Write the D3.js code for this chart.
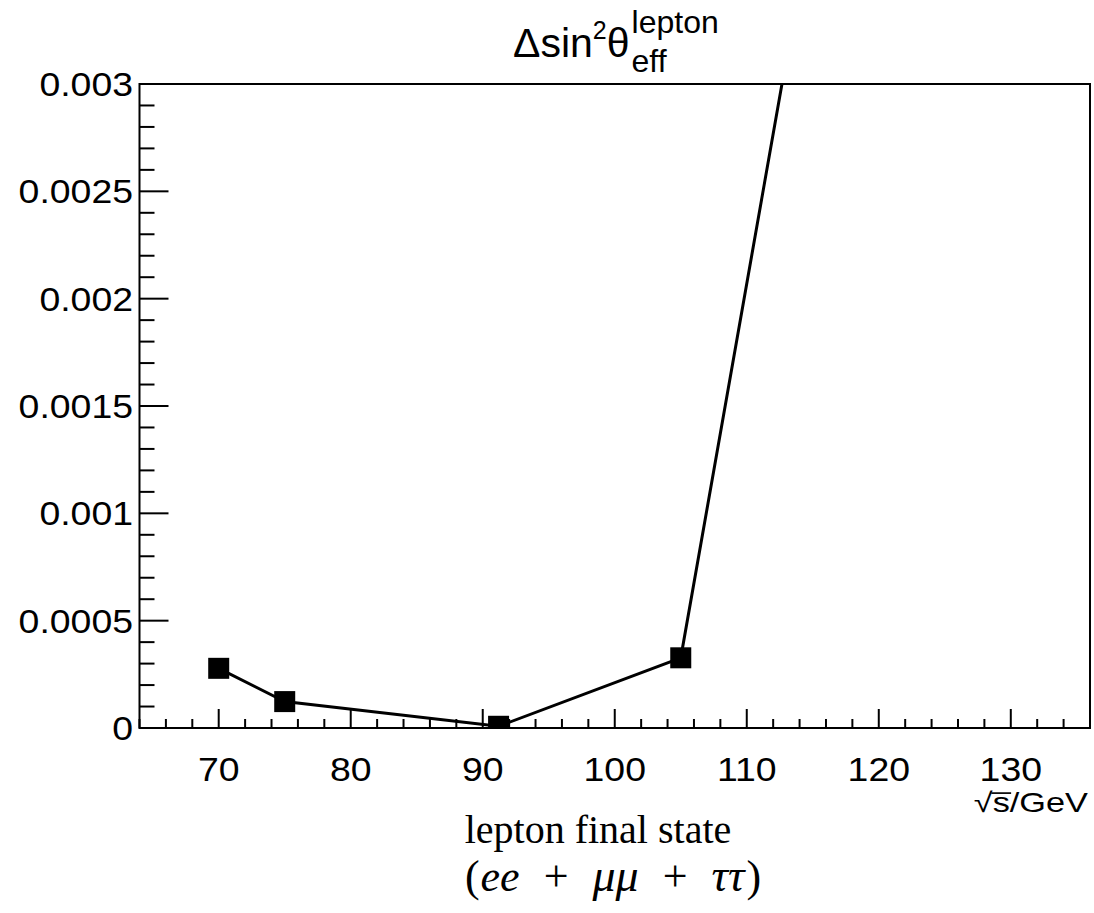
<!DOCTYPE html>
<html>
<head>
<meta charset="utf-8">
<script src="https://cdn.jsdelivr.net/npm/d3@7"></script>
<style>
  html, body { margin: 0; padding: 0; background: #fff; }
  svg { display: block; }
  .sans { font-family: "Liberation Sans", Arial, Helvetica, sans-serif; }
  .serif { font-family: "Liberation Serif", "Times New Roman", serif; }
</style>
</head>
<body>
<svg id="chart" width="1094" height="913"></svg>
<script>
// Centre-of-mass energies (GeV) and the shift in sin^2 theta_eff (lepton)
const energies = [70, 75, 91.2, 105, 125];
const deltaSin2 = [0.000278, 0.000123, 0.000008, 0.000327, 0.0073];

// Axis ticks
const xMajorTicks = [70, 80, 90, 100, 110, 120, 130];
const yMajorTicks = [0, 0.0005, 0.001, 0.0015, 0.002, 0.0025, 0.003];
const yTickLabels = ["0", "0.0005", "0.001", "0.0015", "0.002", "0.0025", "0.003"];

const svg = d3.select("#chart");
const frame = { left: 139.5, right: 1090, top: 84, bottom: 728 };
const SX = 1.1; // horizontal widening of the Helvetica-style labels

const x = d3.scaleLinear().domain([64, 136]).range([frame.left, frame.right]);
const y = d3.scaleLinear().domain([0, 0.003]).range([frame.bottom, frame.top]);

const xMinor = d3.range(64, 136.01, 2).filter(v => !xMajorTicks.includes(v));
const yMinor = d3.range(0, 31).map(i => i * 0.0001).filter((v, i) => i % 5 !== 0);

// place a sans-serif label, widened horizontally around its anchor
function sansLabel(parent, tx, ty, size, anchor, str) {
  return parent.append("text").attr("class", "sans")
    .attr("transform", `translate(${tx},${ty}) scale(${SX},1)`)
    .attr("text-anchor", anchor).attr("font-size", size)
    .text(str);
}

// clip for the data line
svg.append("defs").append("clipPath").attr("id", "frameClip")
  .append("rect")
  .attr("x", frame.left).attr("y", frame.top)
  .attr("width", frame.right - frame.left)
  .attr("height", frame.bottom - frame.top);

// x ticks (drawn inward from the bottom edge)
const xAxisG = svg.append("g").attr("stroke", "#000").attr("stroke-width", 2);
xAxisG.selectAll("line.maj").data(xMajorTicks).enter().append("line")
  .attr("x1", d => x(d)).attr("x2", d => x(d))
  .attr("y1", frame.bottom).attr("y2", frame.bottom - 19);
xAxisG.selectAll("line.min").data(xMinor).enter().append("line")
  .attr("x1", d => x(d)).attr("x2", d => x(d))
  .attr("y1", frame.bottom).attr("y2", frame.bottom - 9);

// y ticks (drawn inward from the left edge)
const yAxisG = svg.append("g").attr("stroke", "#000").attr("stroke-width", 2);
yAxisG.selectAll("line.maj").data(yMajorTicks).enter().append("line")
  .attr("x1", frame.left).attr("x2", frame.left + 29)
  .attr("y1", d => y(d)).attr("y2", d => y(d));
yAxisG.selectAll("line.min").data(yMinor).enter().append("line")
  .attr("x1", frame.left).attr("x2", frame.left + 15)
  .attr("y1", d => y(d)).attr("y2", d => y(d));

// frame
svg.append("rect")
  .attr("x", frame.left).attr("y", frame.top)
  .attr("width", frame.right - frame.left)
  .attr("height", frame.bottom - frame.top)
  .attr("fill", "none").attr("stroke", "#000").attr("stroke-width", 2);

// tick labels
const xLab = svg.append("g");
xMajorTicks.forEach(v => sansLabel(xLab, x(v), 781, 34, "middle", v));
const yLab = svg.append("g");
yMajorTicks.forEach((v, i) => sansLabel(yLab, 133, y(v) + 12, 34, "end", yTickLabels[i]));

// data line and markers
const pts = energies.map((e, i) => [e, deltaSin2[i]]);
svg.append("path")
  .datum(pts)
  .attr("clip-path", "url(#frameClip)")
  .attr("fill", "none").attr("stroke", "#000").attr("stroke-width", 3)
  .attr("d", d3.line().x(d => x(d[0])).y(d => y(d[1])));

const ms = 21;
svg.append("g").attr("clip-path", "url(#frameClip)")
  .selectAll("rect").data(pts).enter().append("rect")
  .attr("x", d => x(d[0]) - ms / 2).attr("y", d => y(d[1]) - ms / 2)
  .attr("width", ms).attr("height", ms).attr("fill", "#000");

// title: Δsin²θ with "lepton" superscript and "eff" subscript
const titleG = svg.append("g").attr("class", "sans")
  .attr("transform", "translate(513,57)");
const title = titleG.append("text").attr("font-size", 41);
title.append("tspan").text("Δsin");
title.append("tspan").attr("font-size", 25).attr("dy", -18).text("2");
title.append("tspan").attr("dy", 18).text("θ");
const tEnd = title.node().getComputedTextLength() + 2;
titleG.append("text").attr("x", tEnd).attr("y", -24)
  .attr("font-size", 32).text("lepton");
titleG.append("text").attr("x", tEnd).attr("y", 15)
  .attr("font-size", 32).text("eff");

// x-axis title: √s/GeV, right aligned to the frame, with the radical bar over s
const xtG = svg.append("g").attr("class", "sans")
  .attr("transform", "translate(1088,812) scale(1.32,1.05)");
const xt = xtG.append("text").attr("text-anchor", "end").attr("font-size", 26)
  .text("√s/GeV");
const xtNode = xt.node();
const barStart = xtNode.getEndPositionOfChar(0).x - 1;
const barEnd = xtNode.getEndPositionOfChar(1).x + 1;
xtG.append("line")
  .attr("x1", barStart).attr("x2", barEnd)
  .attr("y1", -18).attr("y2", -18)
  .attr("stroke", "#000").attr("stroke-width", 1.6);

// caption
svg.append("text").attr("class", "serif")
  .attr("x", 598).attr("y", 843).attr("text-anchor", "middle").attr("font-size", 40)
  .text("lepton final state");
const cap = svg.append("text").attr("class", "serif")
  .attr("x", 613).attr("y", 891).attr("text-anchor", "middle").attr("font-size", 44);
cap.append("tspan").text("(");
cap.append("tspan").attr("font-style", "italic").attr("dx", 1).text("ee");
cap.append("tspan").attr("dx", 24).text("+");
cap.append("tspan").attr("font-style", "italic").attr("font-size", 46).attr("dx", 24).text("μμ");
cap.append("tspan").attr("dx", 24).text("+");
cap.append("tspan").attr("font-style", "italic").attr("font-size", 46).attr("dx", 24).text("ττ");
cap.append("tspan").attr("dx", 2).text(")");
</script>
</body>
</html>
